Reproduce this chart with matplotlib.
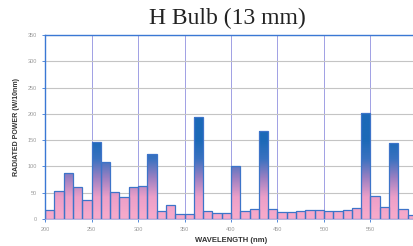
import numpy as np
import matplotlib.pyplot as plt
from matplotlib.path import Path
from matplotlib.patches import PathPatch
from matplotlib.colors import LinearSegmentedColormap

# 10 nm bins starting at each wavelength
wavelength = [200, 210, 220, 230, 240, 250, 260, 270, 280, 290,
              300, 310, 320, 330, 340, 350, 360, 370, 380, 390,
              400, 410, 420, 430, 440, 450, 460, 470, 480, 490,
              500, 510, 520, 530, 540, 550, 560, 570, 580, 590]
power = [17, 53, 87, 60, 36, 146, 109, 51, 41, 61,
         63, 123, 15, 27, 9, 9, 193, 15, 12, 12,
         101, 15, 18, 168, 18, 14, 13, 15, 17, 17,
         15, 15, 17, 20, 201, 43, 23, 144, 18, 8]
yticks = [0, 50, 100, 150, 200, 250, 300, 350]
xticks = [200, 250, 300, 350, 400, 450, 500, 550]

fig = plt.figure(figsize=(4.14, 2.46), dpi=100)
ax = fig.add_axes([0.109, 0.11, 0.898, 0.748])

ax.set_xlim(200, 600)
ax.set_ylim(0, 350)

# grid: grey horizontal, blue-violet vertical
ax.set_axisbelow(True)
ax.grid(axis="y", color="#c4c4c4", linewidth=0.8)
ax.grid(axis="x", color="#a0a0e4", linewidth=0.7)

# gradient fill (pink at the base, blue higher up) clipped to the bars
cmap = LinearSegmentedColormap.from_list("bulb", ["#f7aacb", "#ec9fc8", "#9c80c2", "#3a72c0", "#1b69b7"])
grad = np.linspace(0, 350, 400).reshape(-1, 1)
grad = np.clip((grad - 5) / 145.0, 0, 1)

verts = []
codes = []
for x, h in zip(wavelength, power):
    verts += [(x, 0), (x + 10, 0), (x + 10, h), (x, h), (x, 0)]
    codes += [Path.MOVETO, Path.LINETO, Path.LINETO, Path.LINETO, Path.CLOSEPOLY]
clip = PathPatch(Path(verts, codes), transform=ax.transData, facecolor="none", edgecolor="none")
ax.add_patch(clip)
im = ax.imshow(grad, cmap=cmap, vmin=0, vmax=1, origin="lower", aspect="auto",
               extent=[200, 600, 0, 350], interpolation="bilinear", zorder=2)
im.set_clip_path(clip)

ax.bar(wavelength, power, width=10, align="edge", facecolor="none",
       edgecolor="#3d74c9", linewidth=0.9, zorder=3)

for s in ["left", "top"]:
    ax.spines[s].set_color("#3a78d4")
    ax.spines[s].set_linewidth(1.0)
ax.spines["right"].set_visible(False)
ax.spines["bottom"].set_color("#a8a8dc")
ax.spines["bottom"].set_linewidth(0.6)

ax.set_xticks(xticks)
ax.set_yticks(yticks)
ax.tick_params(axis="both", labelsize=4, labelcolor="#9a9a9a", length=2.2, width=0.6,
               color="#3a78d4", pad=3.5)
for lab in ax.get_xticklabels() + ax.get_yticklabels():
    lab.set_family("Liberation Sans")

ax.set_xlabel("WAVELENGTH (nm)", fontsize=5.5, fontweight="bold", color="#333333",
              family="Liberation Sans", labelpad=4)
ax.set_ylabel("RADIATED POWER (W/10nm)", fontsize=5, fontweight="bold", color="#333333",
              family="Liberation Sans", labelpad=6)
fig.text(0.55, 0.925, "H Bulb (13 mm)", fontsize=17, family="Liberation Serif",
         ha="center", va="center", color="#222222")

fig.savefig("out.png", dpi=100)
